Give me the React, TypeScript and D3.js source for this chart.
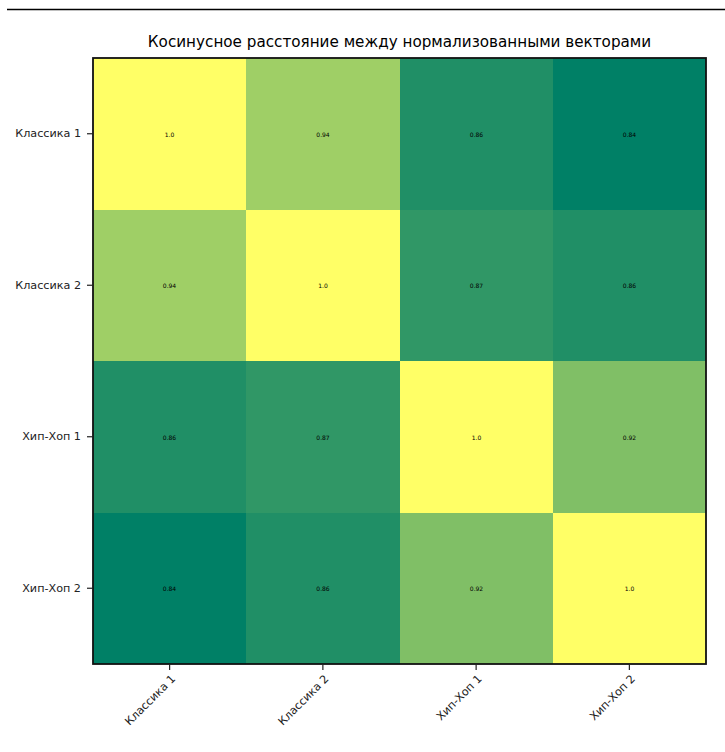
import React from "react";
import * as d3 from "d3";

const labels = ["Классика 1", "Классика 2", "Хип-Хоп 1", "Хип-Хоп 2"];
const matrix = [
  [1.0, 0.94, 0.86, 0.84],
  [0.94, 1.0, 0.87, 0.86],
  [0.86, 0.87, 1.0, 0.92],
  [0.84, 0.86, 0.92, 1.0],
];
const title = "Косинусное расстояние между нормализованными векторами";

const W = 725, H = 752;
const left = 93, right = 706, top = 58, bottom = 664;

function summer(t: number) {
  const r = Math.round(255 * t);
  const g = Math.round(255 * (0.5 + 0.5 * t));
  const b = Math.round(255 * 0.4);
  return `rgb(${r},${g},${b})`;
}

export default function App() {
  const x = d3.scaleBand<string>().domain(labels).range([left, right]);
  const y = d3.scaleBand<string>().domain(labels).range([top, bottom]);
  const flat = matrix.flat();
  const norm = d3.scaleLinear().domain([d3.min(flat)!, d3.max(flat)!]).range([0, 1]);
  const font = "DejaVu Sans, sans-serif";
  return (
    <svg width={W} height={H} style={{ position: "absolute", left: 0, top: 0, background: "#fff" }} fontFamily={font}>
      <line x1={7} x2={W} y1={9.5} y2={9.5} stroke="#000" strokeWidth={1.6} />
      <text x={(left + right) / 2} y={47} textAnchor="middle" fontSize={15.2} fill="#000">{title}</text>
      {matrix.map((row, i) =>
        row.map((v, j) => {
          const x0 = Math.round(x(labels[j])!);
          const x1 = Math.round(x(labels[j])! + x.bandwidth());
          const y0 = Math.round(y(labels[i])!);
          const y1 = Math.round(y(labels[i])! + y.bandwidth());
          return (
            <g key={`${i}-${j}`}>
              <rect x={x0} y={y0} width={x1 - x0} height={y1 - y0} fill={summer(norm(v))} shapeRendering="crispEdges" />
              <text x={(x0 + x1) / 2} y={(y0 + y1) / 2} textAnchor="middle" dominantBaseline="central" fontSize={6} fill="#000">
                {v === 1 ? "1.0" : String(v)}
              </text>
            </g>
          );
        })
      )}
      <rect x={left} y={top} width={right - left} height={bottom - top} fill="none" stroke="#111" strokeWidth={1.8} />
      {labels.map((l) => {
        const cy = y(l)! + y.bandwidth() / 2;
        return (
          <g key={"y" + l}>
            <line x1={left - 6} x2={left} y1={cy} y2={cy} stroke="#222" strokeWidth={1.2} />
            <text x={left - 12} y={cy} textAnchor="end" dominantBaseline="central" fontSize={11.2} fill="#222">{l}</text>
          </g>
        );
      })}
      {labels.map((l) => {
        const cx = x(l)! + x.bandwidth() / 2;
        return (
          <g key={"x" + l}>
            <line x1={cx} x2={cx} y1={bottom} y2={bottom + 6} stroke="#222" strokeWidth={1.2} />
            <text transform={`translate(${cx + 4},${bottom + 13}) rotate(-45)`} textAnchor="end" dominantBaseline="central" fontSize={11.2} fill="#222">{l}</text>
          </g>
        );
      })}
    </svg>
  );
}
